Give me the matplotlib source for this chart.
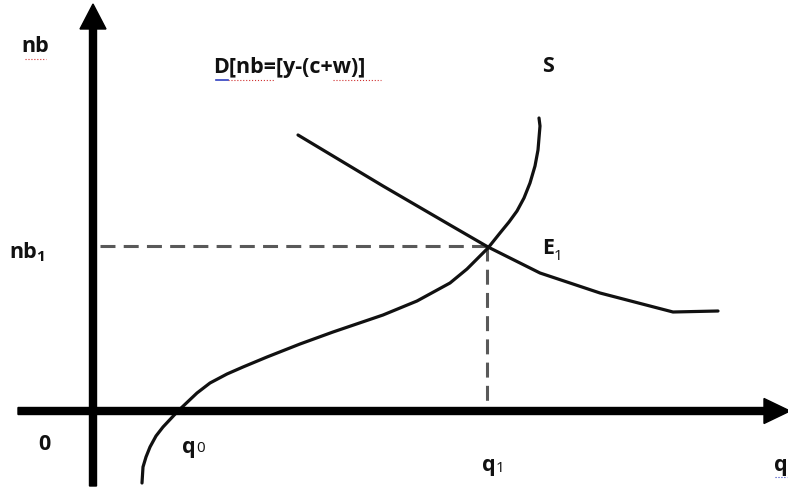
import matplotlib
matplotlib.use("Agg")
import matplotlib.pyplot as plt

# coordinates: quantity to the right of the nb axis, nb above the q axis
demand_q = [205, 290, 357, 395, 447, 507, 580, 625]
demand_nb = [276, 225, 186, 164, 138, 118, 99, 100]

supply_q = [49, 50, 53, 57, 63, 70, 85, 104, 117, 134, 150, 174, 207, 240,
            290, 324, 357, 374, 395, 407, 416, 424, 431, 437, 442, 445, 447,
            446]
supply_nb = [-72, -56, -46, -36, -25, -16, 0, 18, 28, 37, 44, 54, 67, 79,
             96, 110, 128, 142, 163, 178, 189, 200, 213, 228, 245, 261, 285,
             293]

q0 = 85
q1 = 394
nb1 = 165

FONT = "Open Sans"
INK = "#111111"

fig = plt.figure(figsize=(7.88, 4.88), dpi=100)
ax = fig.add_axes([0, 0, 1, 1])
ax.set_xlim(-93, 695)
ax.set_ylim(-77, 411)
ax.set_aspect("equal")
ax.axis("off")

# axes with arrows
ax.arrow(0, -75, 0, 482, width=7, head_width=26, head_length=25,
         length_includes_head=True, color="black", zorder=3)
ax.arrow(-75, 0, 772, 0, width=7, head_width=25, head_length=26,
         length_includes_head=True, color="black", zorder=3)

# guide lines to the equilibrium
ax.plot([7, q1], [nb1, nb1], color="#595959", lw=2.2, dashes=(4.9, 2.7))
ax.plot([q1, q1], [nb1, 0], color="#595959", lw=2.2, dashes=(4.9, 2.7))

# curves
ax.plot(demand_q, demand_nb, color=INK, lw=2.3, solid_capstyle="round",
        solid_joinstyle="round")
ax.plot(supply_q, supply_nb, color=INK, lw=2.3, solid_capstyle="round",
        solid_joinstyle="round")

kw = dict(family=FONT, weight="bold", color=INK, fontsize=15.5)
sub = dict(family=FONT, color=INK, fontsize=11)
ax.text(-58, 364, "nb", ha="center", va="center", **kw)
ax.text(120, 343, "D[nb=[y-(c+w)]", ha="left", va="center", **kw)
ax.text(455, 345, "S", ha="center", va="center", **kw)
ax.text(-84, 159, "nb", ha="left", va="center", **kw)
ax.text(-57, 154, "1", ha="left", va="center", weight="bold", **sub)
ax.text(449, 162, "E", ha="left", va="center", **kw)
ax.text(461, 155, "1", ha="left", va="center", **sub)
ax.text(-49, -33, "0", ha="center", va="center", **kw)
ax.text(89, -36, "q", ha="left", va="center", **kw)
ax.text(103, -38, "0", ha="left", va="center", **sub)
ax.text(389, -55, "q", ha="left", va="center", **kw)
ax.text(403, -57, "1", ha="left", va="center", **sub)
ax.text(681, -55, "q", ha="left", va="center", **kw)

# spell-check underlines from the original document
ax.plot([-68, -47], [352, 352], color="#d03030", lw=0.8, ls=":")
ax.plot([135, 181], [331, 331], color="#d03030", lw=0.8, ls=":")
ax.plot([240, 288], [331, 331], color="#d03030", lw=0.8, ls=":")
ax.plot([123, 135], [331, 331], color="#3040c0", lw=1.2)
ax.plot([682, 694], [-66, -66], color="#3040c0", lw=0.8, ls=":")

fig.savefig("out.png", dpi=100, facecolor="white")
